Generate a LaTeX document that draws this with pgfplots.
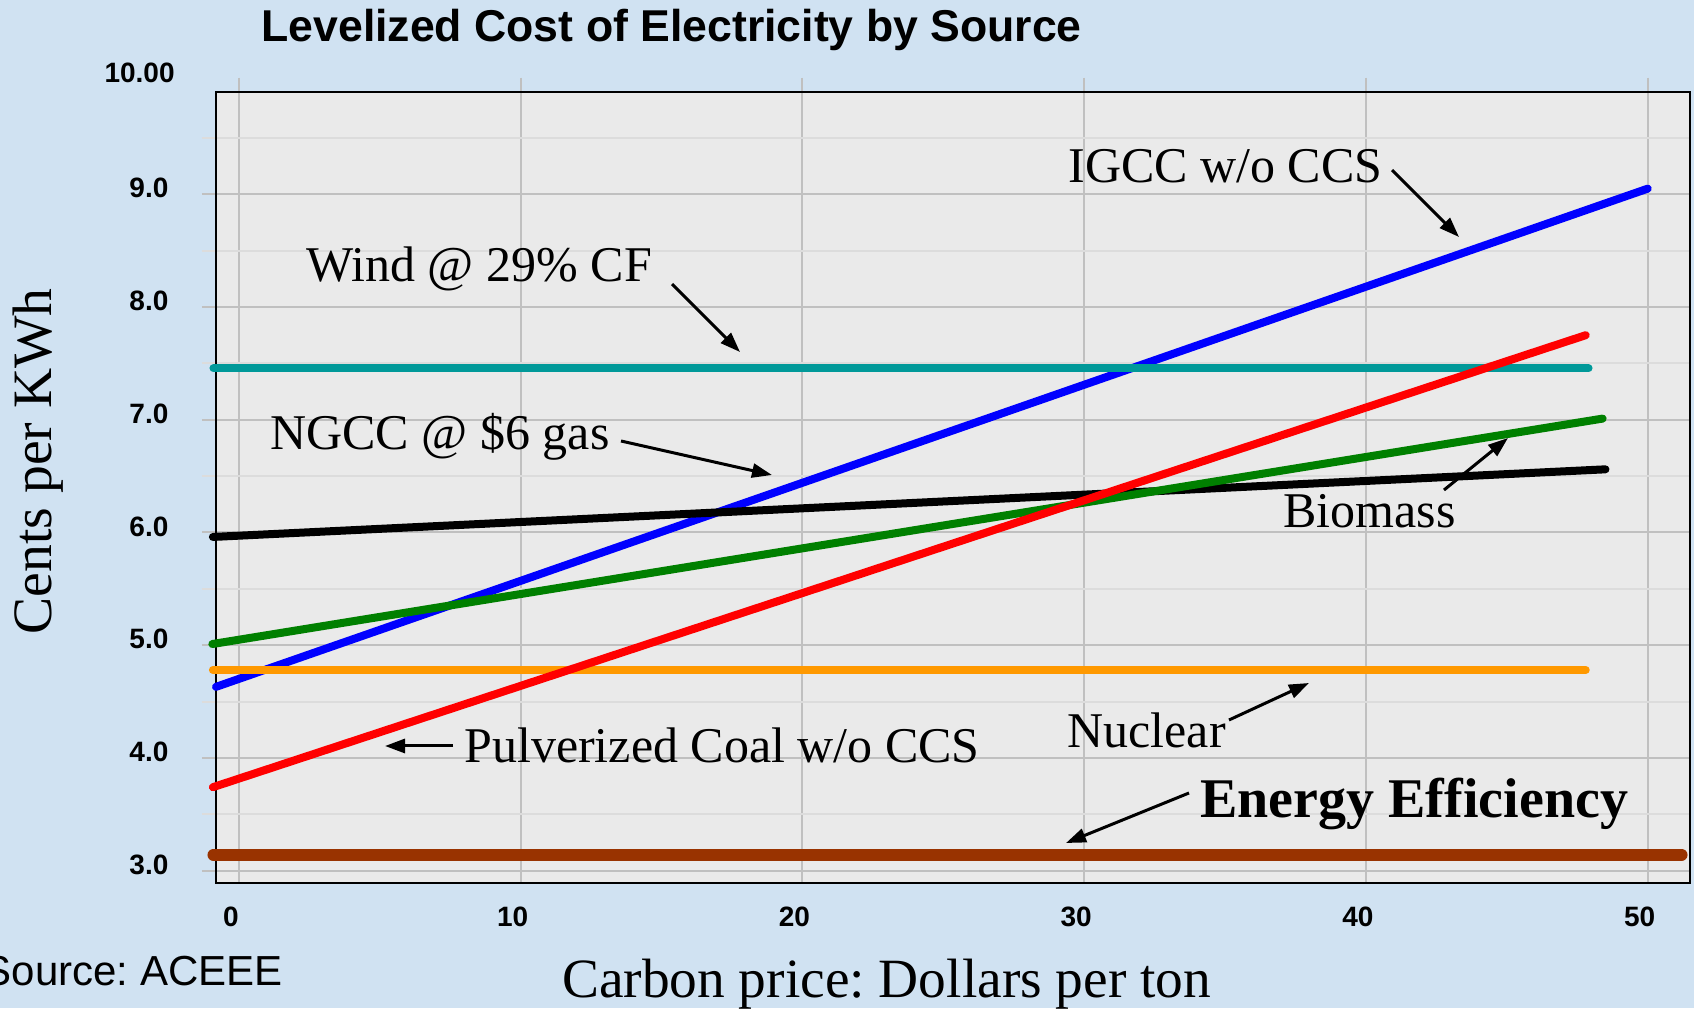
\documentclass[border=0pt]{standalone}
\usepackage{fontspec}
\setmainfont{Liberation Serif}
\setsansfont{Liberation Sans}
\usepackage{pgfplots}
\pgfplotsset{compat=1.18}
\usetikzlibrary{arrows.meta}
\frenchspacing
\definecolor{bgblue}{RGB}{208,226,242}
\definecolor{plotbg}{RGB}{234,234,234}
\definecolor{gridmaj}{RGB}{192,192,192}
\definecolor{gridmin}{RGB}{220,220,220}
\definecolor{tealc}{RGB}{0,153,153}
\definecolor{orangec}{RGB}{255,153,0}
\definecolor{brownc}{RGB}{153,51,0}
\definecolor{greenc}{RGB}{0,128,0}
\begin{document}
\begin{tikzpicture}
\useasboundingbox (0,0) rectangle (847pt,504pt);
\fill[bgblue] (0,0) rectangle (847pt,504pt);
\begin{axis}[
  at={(108pt,62.5pt)}, anchor=south west,
  scale only axis, width=737pt, height=395.65pt,
  xmin=-0.81, xmax=51.5, ymin=2.89, ymax=9.91,
  clip=false,
  axis background/.style={fill=plotbg},
  axis line style={black, line width=1pt},
  xtick={0,10,20,30,40,50},
  xticklabels={0,10,20,30,40,50},
  ytick={3,4,5,6,7,8,9},
  yticklabels={3.0,4.0,5.0,6.0,7.0,8.0,9.0},
  minor ytick={3.5,4.5,5.5,6.5,7.5,8.5,9.5},
  grid=both,
  major grid style={gridmaj, line width=1pt},
  minor grid style={gridmin, line width=1pt},
  tick align=outside,
  major tick length=7pt,
  minor tick length=7pt,
  major tick style={gridmaj, line width=1pt},
  minor tick style={gridmin, line width=1pt},
  xtick pos=upper, xticklabel pos=lower,
  ytick pos=left,
  ticklabel style={font=\sffamily\bfseries\fontsize{14}{16}\selectfont, inner sep=0pt},
  xticklabel style={anchor=north, xshift=-4pt},
  yticklabel style={anchor=east, yshift=3pt},
  xticklabel shift=5pt,
  yticklabel shift=16.6pt,
  title={Levelized Cost of Electricity by Source},
  title style={font=\sffamily\bfseries\fontsize{22.3}{26}\selectfont, at={(axis description cs:0.0305,1)}, anchor=base west, yshift=19pt, inner sep=0pt},
  xlabel={Carbon price: Dollars per ton},
  xlabel style={font=\fontsize{27.7}{32}\selectfont, at={(axis description cs:0.455,0)}, anchor=base, yshift=-57pt, inner sep=0pt},
  ylabel={Cents per KWh},
  ylabel style={font=\fontsize{27.8}{32}\selectfont, at={(axis description cs:0,0.533)}, anchor=base, yshift=82pt, inner sep=0pt},
  every axis plot/.append style={line cap=round, line width=4pt},
]
\addplot[blue] coordinates {(-0.81,4.63) (50,9.05)};
\addplot[tealc] coordinates {(-0.9,7.456) (47.9,7.456)};
\addplot[black] coordinates {(-0.92,5.96) (48.5,6.56)};
\addplot[greenc] coordinates {(-0.94,5.01) (48.4,7.01)};
\addplot[orangec] coordinates {(-0.92,4.78) (47.8,4.78)};
\addplot[red] coordinates {(-0.92,3.74) (47.8,7.75)};
\addplot[brownc, line width=6pt] coordinates {(-0.9,3.14) (51.2,3.14)};
\end{axis}
\begin{scope}[shift={(0pt,504pt)}, x=0.5pt, y=-0.5pt]
\node[anchor=east, inner sep=0pt, font=\sffamily\bfseries\fontsize{14}{16}\selectfont] at (175,73.3) {10.00};
\node[anchor=base east, inner sep=0pt, font=\sffamily\fontsize{21}{25}\selectfont] at (283,985) {Source: ACEEE};
\tikzset{lab/.style={anchor=base west, inner sep=0pt, font=\fontsize{25}{30}\selectfont},
         arr/.style={-{Triangle[length=10pt,width=7pt]}, line width=1.5pt}}
\node[lab] at (1068,183) {IGCC w/o CCS};
\draw[arr] (1392,170) -- (1459,237);
\node[lab] at (306,282) {Wind @ 29\% CF};
\draw[arr] (672,284) -- (740,352);
\node[lab] at (270,450) {NGCC @ \$6 gas};
\draw[arr] (621,441) -- (772,475);
\node[lab] at (1283,528) {Biomass};
\draw[arr] (1444,490) -- (1508,438);
\node[lab] at (464,763) {Pulverized Coal w/o CCS};
\draw[arr] (453,746) -- (385,746);
\node[lab] at (1067,748) {Nuclear};
\draw[arr] (1229,720) -- (1309,683);
\node[lab, font=\bfseries\fontsize{28}{32}\selectfont] at (1200,818) {Energy Efficiency};
\draw[arr] (1189,793) -- (1066,843);
\end{scope}
\end{tikzpicture}
\end{document}
